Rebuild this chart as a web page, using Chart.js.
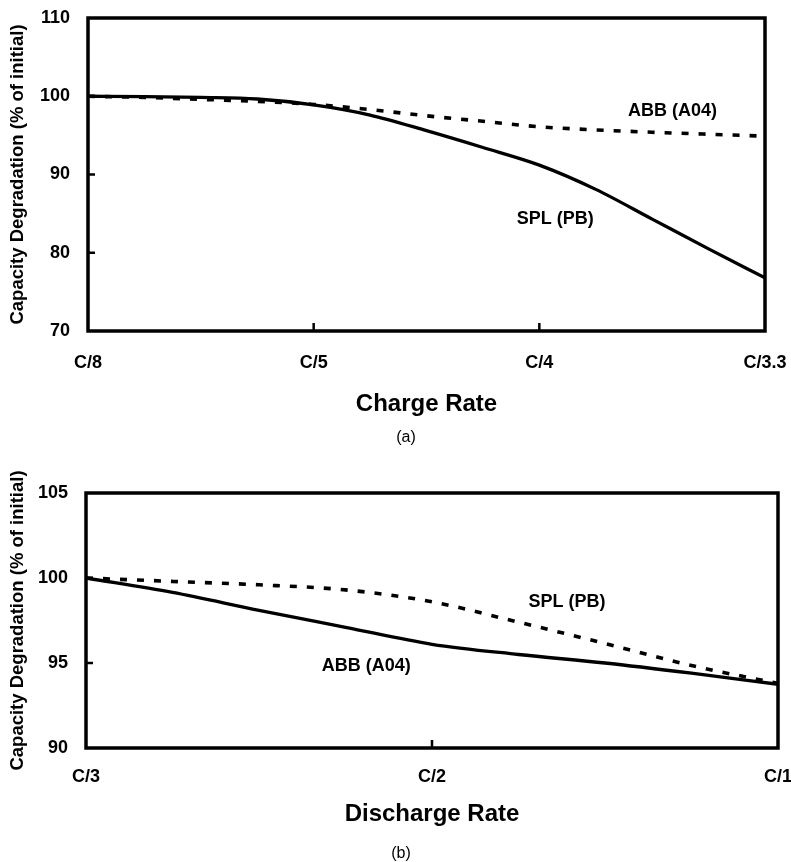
<!DOCTYPE html>
<html><head><meta charset="utf-8">
<script src="https://cdn.jsdelivr.net/npm/chart.js@4.4.0/dist/chart.umd.min.js"></script>
<style>
html,body{margin:0;padding:0;background:#fff;}
body{width:791px;height:862px;position:relative;overflow:hidden;font-family:"Liberation Sans",Arial,sans-serif;}
.wrap{position:absolute;left:0;width:791px;}
#wa{top:0;height:430px;}
#wb{top:430px;height:432px;}
.cap{position:absolute;font-size:16px;transform:translate(-50%,-50%);line-height:1;color:#000;}
</style></head><body>
<div id="wa" class="wrap"><canvas id="ca" width="791" height="430"></canvas></div>
<div id="wb" class="wrap"><canvas id="cb" width="791" height="432"></canvas></div>
<div class="cap" style="left:406px;top:437px">(a)</div>
<div class="cap" style="left:401px;top:853px">(b)</div>
<script>
// ---- data (a): charge rate ----
const chargeRateLabels = ['C/8', 'C/5', 'C/4', 'C/3.3'];
const chargeSteps = [0, 0.25, 0.5, 0.75, 1, 1.25, 1.5, 1.75, 2, 2.25, 2.5, 2.75, 3];
const chargeSPL = [100, 99.95, 99.85, 99.65, 98.9, 97.6, 95.6, 93.45, 91.2, 88.1, 84.3, 80.5, 76.8];
const chargeABB = [100, 99.85, 99.6, 99.35, 98.95, 98.3, 97.5, 96.8, 96.1, 95.7, 95.4, 95.15, 94.9];
const chargeYTicks = [70, 80, 90, 100, 110];

// ---- data (b): discharge rate ----
const dischargeRateLabels = ['C/3', 'C/2', 'C/1'];
const dischargeSteps = [0, 0.25, 0.5, 0.75, 1, 1.25, 1.5, 1.75, 2];
const dischargeSPL = [100, 99.8, 99.6, 99.3, 98.6, 97.4, 96.15, 94.85, 93.8];
const dischargeABB = [100, 99.15, 98.1, 97.1, 96.1, 95.5, 95.0, 94.4, 93.75];
const dischargeYTicks = [90, 95, 100, 105];

const FONT = '"Liberation Sans", Arial, Helvetica, sans-serif';

const frame = {
  id: 'frame',
  afterDatasetsDraw(chart, args, opts) {
    const {ctx, chartArea: a, scales: {x, y}} = chart;
    ctx.save();
    ctx.strokeStyle = '#000';
    ctx.lineWidth = 2.5;
    y.ticks.forEach(t => {
      if (t.value === y.min || t.value === y.max) return;
      const py = y.getPixelForValue(t.value);
      ctx.beginPath(); ctx.moveTo(a.left, py); ctx.lineTo(a.left + 7, py); ctx.stroke();
    });
    x.ticks.forEach(t => {
      if (t.value === x.min || t.value === x.max) return;
      const px = x.getPixelForValue(t.value);
      ctx.beginPath(); ctx.moveTo(px, a.bottom); ctx.lineTo(px, a.bottom - 8); ctx.stroke();
    });
    ctx.lineWidth = 3.5;
    ctx.strokeRect(a.left, a.top, a.right - a.left, a.bottom - a.top);
    ctx.fillStyle = '#000';
    ctx.font = 'bold 18px ' + FONT;
    ctx.textAlign = 'center';
    ctx.textBaseline = 'middle';
    (opts.notes || []).forEach(n => ctx.fillText(n.text, x.getPixelForValue(n.x), y.getPixelForValue(n.y)));
    ctx.restore();
  }
};

function zeroPad(s) { s.paddingTop = 0; s.paddingBottom = 0; s.paddingLeft = 0; s.paddingRight = 0; }

function makeChart(id, cfg) {
  const pts = (arr) => cfg.steps.map((s, i) => ({x: s, y: arr[i]}));
  return new Chart(document.getElementById(id), {
    type: 'line',
    data: {datasets: [
      {data: pts(cfg.solid), borderColor: '#000', borderWidth: 3.3, pointRadius: 0, cubicInterpolationMode: 'monotone', fill: false},
      {data: pts(cfg.dashed), borderColor: '#000', borderWidth: 3.6, borderDash: [7, 10], pointRadius: 0, cubicInterpolationMode: 'monotone', fill: false}
    ]},
    options: {
      responsive: false, animation: false, devicePixelRatio: 1,
      layout: {padding: {top: cfg.padTop, right: cfg.padRight, left: 0, bottom: 0}},
      plugins: {legend: {display: false}, tooltip: {enabled: false}, frame: {notes: cfg.notes}},
      scales: {
        x: {
          type: 'linear', min: 0, max: cfg.labels.length - 1,
          grid: {display: false, drawTicks: false}, border: {display: false},
          afterFit(s) { s.height = cfg.xHeight; zeroPad(s); },
          ticks: {stepSize: 1, autoSkip: false, maxRotation: 0, padding: cfg.xTickPad, color: '#000',
                  font: {family: FONT, size: 18, weight: 'bold'}, callback: v => cfg.labels[v]},
          title: {display: true, text: cfg.xTitle, color: '#000', font: {family: FONT, size: 24, weight: 'bold'},
                  padding: {top: 0, bottom: cfg.xTitlePad}}
        },
        y: {
          type: 'linear', min: cfg.yTicks[0], max: cfg.yTicks[cfg.yTicks.length - 1],
          grid: {display: false, drawTicks: false}, border: {display: false},
          afterFit(s) { s.width = cfg.yWidth; zeroPad(s); },
          afterBuildTicks(s) { s.ticks = cfg.yTicks.map(v => ({value: v})); },
          ticks: {padding: 18, color: '#000', font: {family: FONT, size: 18, weight: 'bold'}},
          title: {display: true, text: 'Capacity Degradation (% of initial)', color: '#000',
                  font: {family: FONT, size: 18.5, weight: 'bold'}, padding: {top: 7, bottom: 0}}
        }
      }
    },
    plugins: [frame]
  });
}

makeChart('ca', {
  steps: chargeSteps, solid: chargeSPL, dashed: chargeABB, labels: chargeRateLabels, yTicks: chargeYTicks,
  xTitle: 'Charge Rate', padTop: 18, padRight: 26, xHeight: 99, yWidth: 88, xTickPad: 21, xTitlePad: 11,
  notes: [{text: 'ABB (A04)', x: 2.59, y: 98.1}, {text: 'SPL (PB)', x: 2.07, y: 84.3}]
});
makeChart('cb', {
  steps: dischargeSteps, solid: dischargeABB, dashed: dischargeSPL, labels: dischargeRateLabels, yTicks: dischargeYTicks,
  xTitle: 'Discharge Rate', padTop: 63, padRight: 13, xHeight: 114, yWidth: 86, xTickPad: 18, xTitlePad: 33,
  notes: [{text: 'SPL (PB)', x: 1.39, y: 98.6}, {text: 'ABB (A04)', x: 0.81, y: 94.85}]
});
</script>
</body></html>
